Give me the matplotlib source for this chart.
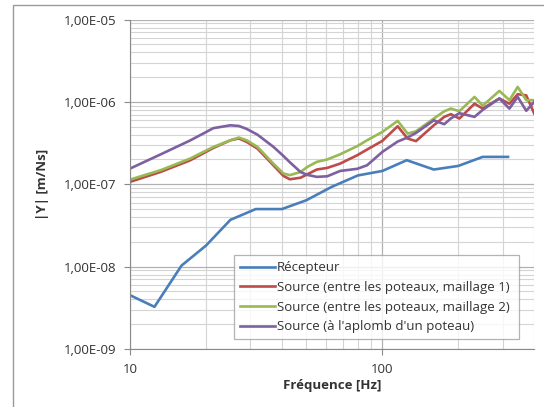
import matplotlib
matplotlib.use("Agg")
import matplotlib.pyplot as plt
from matplotlib.patches import Rectangle
from matplotlib.ticker import FixedLocator, FuncFormatter, LogLocator, NullFormatter

plt.rcParams['font.family'] = ['Open Sans', 'DejaVu Sans']

# Récepteur, tiers d'octave
f_rec = [10, 12.5, 16, 20, 25, 31.5, 40, 50, 63, 80, 100, 125, 160, 200, 250, 315]
y_rec = [4.5e-9, 3.25e-9, 1.03e-8, 1.8e-8, 3.7e-8, 5.0e-8, 5.0e-8, 6.4e-8, 9.3e-8,
         1.28e-7, 1.45e-7, 1.96e-7, 1.51e-7, 1.67e-7, 2.15e-7, 2.15e-7]

# Sources, grille fine commune
f_src = [10, 13.2, 17.3, 21.4, 25, 27, 29, 32, 37, 40.6, 43, 47.4, 50.4, 55, 60.5,
         68, 79.5, 87, 100, 115, 126, 136, 160, 176, 187, 202, 232, 250, 291, 319,
         344, 372, 400]
y_m1 = [1.07e-7, 1.41e-7, 1.95e-7, 2.76e-7, 3.42e-7, 3.6e-7, 3.27e-7, 2.71e-7,
        1.7e-7, 1.26e-7, 1.15e-7, 1.2e-7, 1.32e-7, 1.51e-7, 1.58e-7, 1.78e-7,
        2.25e-7, 2.64e-7, 3.36e-7, 5.06e-7, 3.59e-7, 3.34e-7, 5.2e-7, 6.58e-7,
        7.1e-7, 6.28e-7, 9.5e-7, 8.3e-7, 1.1e-6, 9.5e-7, 1.24e-6, 1.2e-6, 7.2e-7]
y_m2 = [1.14e-7, 1.48e-7, 2.05e-7, 2.84e-7, 3.42e-7, 3.69e-7, 3.42e-7, 2.84e-7,
        1.78e-7, 1.35e-7, 1.29e-7, 1.41e-7, 1.62e-7, 1.87e-7, 2.0e-7, 2.31e-7,
        2.9e-7, 3.42e-7, 4.32e-7, 5.88e-7, 4.12e-7, 4.4e-7, 6.28e-7, 7.7e-7,
        8.3e-7, 7.7e-7, 1.15e-6, 9.0e-7, 1.36e-6, 1.05e-6, 1.52e-6, 1.05e-6, 1.05e-6]
y_pot = [1.55e-7, 2.3e-7, 3.4e-7, 4.8e-7, 5.2e-7, 5.1e-7, 4.7e-7, 4.0e-7,
         2.85e-7, 2.2e-7, 1.85e-7, 1.41e-7, 1.3e-7, 1.23e-7, 1.25e-7, 1.45e-7,
         1.54e-7, 1.7e-7, 2.47e-7, 3.3e-7, 3.7e-7, 4.2e-7, 5.98e-7, 5.36e-7,
         6.3e-7, 7.3e-7, 6.58e-7, 8.0e-7, 1.1e-6, 8.3e-7, 1.15e-6, 7.8e-7, 1.0e-6]

labels = ["Récepteur",
          "Source (entre les poteaux, maillage 1)",
          "Source (entre les poteaux, maillage 2)",
          "Source (à l'aplomb d'un poteau)"]
colors = ["#4A7EBB", "#BE4B48", "#98B954", "#7D60A0"]

fig = plt.figure(figsize=(5.44, 4.07), dpi=100)
fig.add_artist(Rectangle((13 / 544, -0.1), 1.2, 1 - 5 / 407 + 0.1,
                         transform=fig.transFigure, facecolor='none',
                         edgecolor='#9a9a9a', linewidth=1.0))
ax = fig.add_axes([0.239, 0.1425, 0.743, 0.8095])

ax.plot(f_rec, y_rec, color=colors[0], lw=1.9, label=labels[0])
ax.plot(f_src, y_m1, color=colors[1], lw=1.9, label=labels[1])
ax.plot(f_src, y_m2, color=colors[2], lw=1.9, label=labels[2])
ax.plot(f_src, y_pot, color=colors[3], lw=1.9, label=labels[3])

ax.set_xscale('log')
ax.set_yscale('log')
ax.set_xlim(10, 400)
ax.set_ylim(1e-9, 1e-5)

ax.xaxis.set_major_locator(FixedLocator([10, 100]))
ax.xaxis.set_major_formatter(FuncFormatter(lambda v, p: f"{v:.0f}"))
ax.xaxis.set_minor_locator(LogLocator(base=10, subs=range(2, 10)))
ax.xaxis.set_minor_formatter(NullFormatter())
ax.yaxis.set_major_locator(FixedLocator([1e-9, 1e-8, 1e-7, 1e-6, 1e-5]))
ax.yaxis.set_major_formatter(FuncFormatter(lambda v, p: f"{v:.2E}".replace('.', ',')))
ax.yaxis.set_minor_locator(LogLocator(base=10, subs=range(2, 10)))
ax.yaxis.set_minor_formatter(NullFormatter())

ax.grid(True, which='major', color='#b0b0b0', lw=0.9)
ax.grid(True, which='minor', color='#d4d4d4', lw=0.8)
ax.set_axisbelow(True)
for s in ['top', 'right']:
    ax.spines[s].set_visible(False)
for s in ['left', 'bottom']:
    ax.spines[s].set_color('#8a8a8a')
ax.tick_params(which='major', length=4, color='#8a8a8a', labelsize=9.5,
               labelcolor='#333333')
ax.tick_params(which='minor', length=0)
ax.tick_params(axis='x', pad=6)
ax.tick_params(axis='y', pad=6)

ax.set_xlabel("Fréquence [Hz]", fontsize=9.5, fontweight='bold', color='#333333')
ax.set_ylabel("|Y| [m/Ns]", fontsize=9.5, fontweight='bold', color='#333333')
ax.xaxis.set_label_coords(0.5, -0.09)
ax.yaxis.set_label_coords(-0.2, 0.5)

leg = ax.legend(loc='lower left', bbox_to_anchor=(0.257, 0.03, 0.706, 0.252),
                mode='expand', fontsize=9.5, frameon=True, fancybox=False,
                handlelength=2.7, handletextpad=0.1, borderpad=0.45,
                labelspacing=0.5, borderaxespad=0)
leg.get_frame().set_edgecolor('#a0a0a0')
leg.get_frame().set_linewidth(0.9)
for t in leg.get_texts():
    t.set_color('#333333')

fig.savefig("out.png", dpi=100)
